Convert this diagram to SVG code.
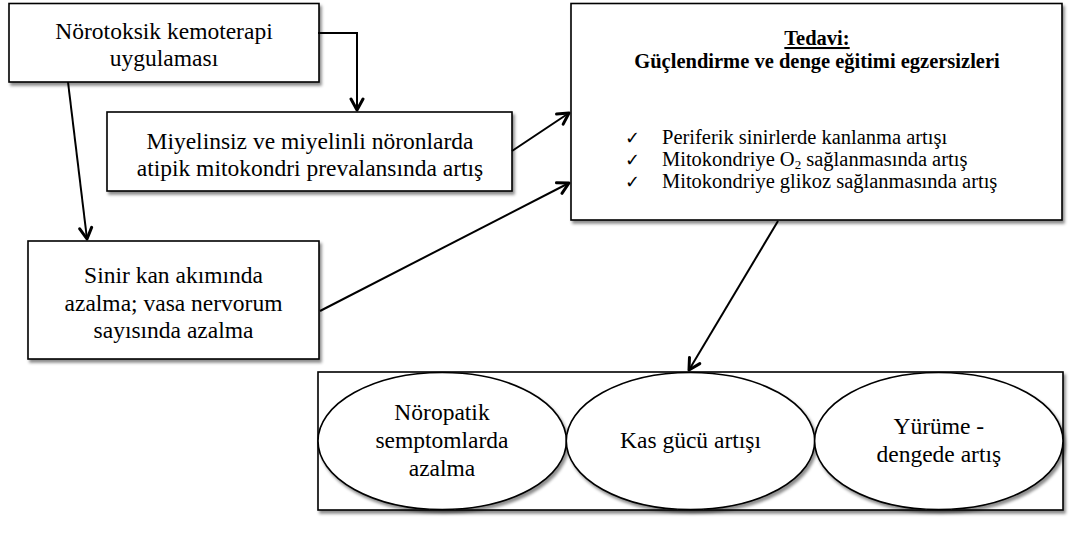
<svg xmlns="http://www.w3.org/2000/svg" width="1076" height="536" viewBox="0 0 1076 536">
<style>
.box{fill:#fff;stroke:#000;stroke-width:1.6;filter:url(#sh)}
text{font-family:"Liberation Serif","Times New Roman",serif;fill:#000}
.t{font-size:23.5px;text-anchor:middle}
.s{font-size:20.5px}
.b{font-weight:bold;text-anchor:middle}
.ck{font-family:"DejaVu Sans",sans-serif;font-size:18px;font-weight:bold}
.c{fill:none;stroke:#000;stroke-width:2}
</style>
<defs>
<filter id="sh" x="-10%" y="-10%" width="120%" height="130%">
<feDropShadow dx="2" dy="3" stdDeviation="1.8" flood-color="#000" flood-opacity="0.45"/>
</filter>
<marker id="ah" viewBox="0 0 15 16" refX="13" refY="8" markerWidth="15" markerHeight="16" markerUnits="userSpaceOnUse" orient="auto">
<path d="M2,2 L13,8 L2,14" fill="none" stroke="#000" stroke-width="3" stroke-linecap="round" stroke-linejoin="round"/>
</marker>
</defs>
<g id="n1">
<rect class="box" x="9" y="3.5" width="310" height="78.5"/>
<text class="t" x="164" y="39">Nörotoksik kemoterapi</text>
<text class="t" x="164" y="66">uygulaması</text>
</g>
<g id="n2">
<rect class="box" x="107" y="112" width="405" height="79"/>
<text class="t" x="310" y="149">Miyelinsiz ve miyelinli nöronlarda</text>
<text class="t" x="310" y="176">atipik mitokondri prevalansında artış</text>
</g>
<g id="n3">
<rect class="box" x="28" y="241" width="291" height="118"/>
<text class="t" x="173.5" y="283">Sinir kan akımında</text>
<text class="t" x="173.5" y="311">azalma; vasa nervorum</text>
<text class="t" x="173.5" y="338">sayısında azalma</text>
</g>
<g id="n4">
<rect class="box" x="571" y="3.5" width="491" height="216.5"/>
<text class="s b" x="817" y="45" text-decoration="underline">Tedavi:</text>
<text class="s b" x="817" y="68">Güçlendirme ve denge eğitimi egzersizleri</text>
<text class="ck" x="625" y="144">✓</text>
<text class="s" x="662" y="144">Periferik sinirlerde kanlanma artışı</text>
<text class="ck" x="625" y="166">✓</text>
<text class="s" x="662" y="166">Mitokondriye O<tspan font-size="13" dy="3">2</tspan><tspan dy="-3"> sağlanmasında artış</tspan></text>
<text class="ck" x="625" y="188">✓</text>
<text class="s" x="662" y="188">Mitokondriye glikoz sağlanmasında artış</text>
</g>
<g id="n5">
<rect class="box" x="318" y="372" width="745" height="138"/>
<g id="e1">
<ellipse class="box" cx="442.2" cy="441" rx="124.2" ry="68.5"/>
<text class="t" x="442" y="420">Nöropatik</text>
<text class="t" x="442" y="448">semptomlarda</text>
<text class="t" x="442" y="476">azalma</text>
</g>
<g id="e2">
<ellipse class="box" cx="690.5" cy="441" rx="124.2" ry="68.5"/>
<text class="t" x="690.5" y="448">Kas gücü artışı</text>
</g>
<g id="e3">
<ellipse class="box" cx="938.8" cy="441" rx="124.2" ry="68.5"/>
<text class="t" x="938.8" y="434">Yürüme -</text>
<text class="t" x="938.8" y="462">dengede artış</text>
</g>
</g>
<g id="connectors">
<path class="c" d="M318,33 H357 V110" marker-end="url(#ah)"/>
<path class="c" d="M68,82 L87,239" marker-end="url(#ah)"/>
<path class="c" d="M512,151 L569,113" marker-end="url(#ah)"/>
<path class="c" d="M320,311 L569,183" marker-end="url(#ah)"/>
<path class="c" d="M778,221 L689,370" marker-end="url(#ah)"/>
</g>
</svg>
